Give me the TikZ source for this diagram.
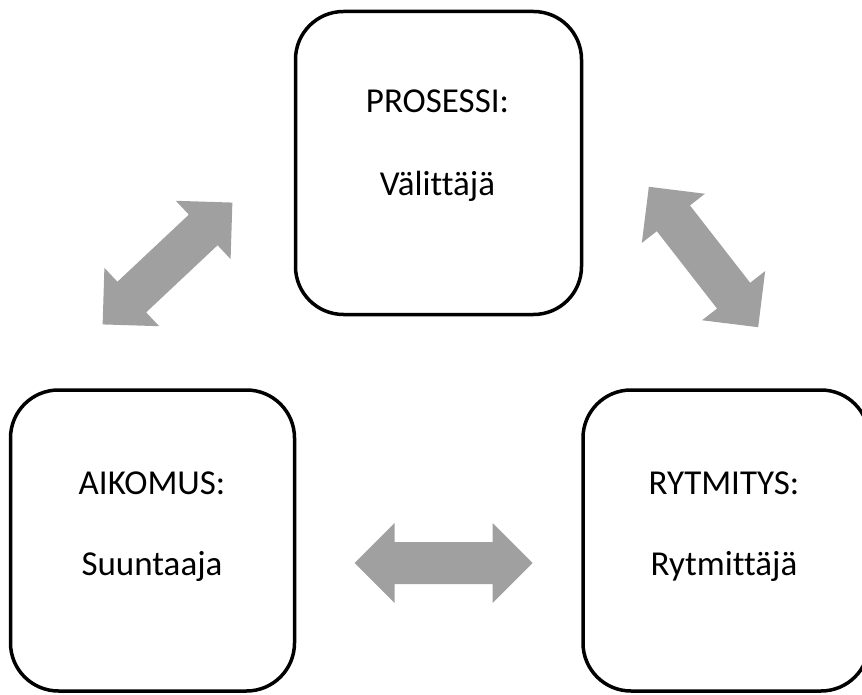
\documentclass[tikz,border=0pt]{standalone}
\usepackage{fontspec}
\setmainfont{Carlito}[Ligatures=NoCommon]
\definecolor{arrowgray}{RGB}{160,160,160}
\tikzset{
  stagebox/.style={draw=black, line width=3.5pt, rounded corners=48pt,
    rectangle, minimum width=#1, minimum height=301pt, inner sep=0pt},
  stagetext/.style={anchor=base, inner sep=0pt, font=\fontsize{35}{42}\selectfont},
  twoway/.pic={
    \fill[arrowgray] (-89,0) -- (-49,40) -- (-49,21) -- (49,21) -- (49,40)
      -- (89,0) -- (49,-40) -- (49,-21) -- (-49,-21) -- (-49,-40) -- cycle;
  }
}
\begin{document}
\begin{tikzpicture}[x=1pt,y=-1pt]
  \useasboundingbox (0,0) rectangle (862,695);
  \clip (0,0) rectangle (862,695);

  % three stages
  \node[stagebox=286pt, minimum height=303pt] (prosessi) at (438.5,163) {};
  \node[stagebox=284pt] (aikomus) at (152.5,540.5) {};
  \node[stagebox=286pt] (rytmitys) at (726,540.5) {};

  % labels
  \node[stagetext] (prosessiA) at (437.5,113) {PROSESSI:};
  \node[stagetext] (prosessiB) at (437.5,196) {Välittäjä};
  \node[stagetext] (aikomusA) at (152,494) {AIKOMUS:};
  \node[stagetext] (aikomusB) at (152,575) {Suuntaaja};
  \node[stagetext] (rytmitysA) at (724,494) {RYTMITYS:};
  \node[stagetext] (rytmitysB) at (724,575) {Rytmittäjä};

  % two-way block arrows between the stages
  \pic[rotate=43.2] (arrowAP) at (167.5,263.5) {twoway};
  \pic[rotate=-52.1] (arrowPR) at (703.5,257) {twoway};
  \pic (arrowAR) at (443.5,563) {twoway};
\end{tikzpicture}
\end{document}
